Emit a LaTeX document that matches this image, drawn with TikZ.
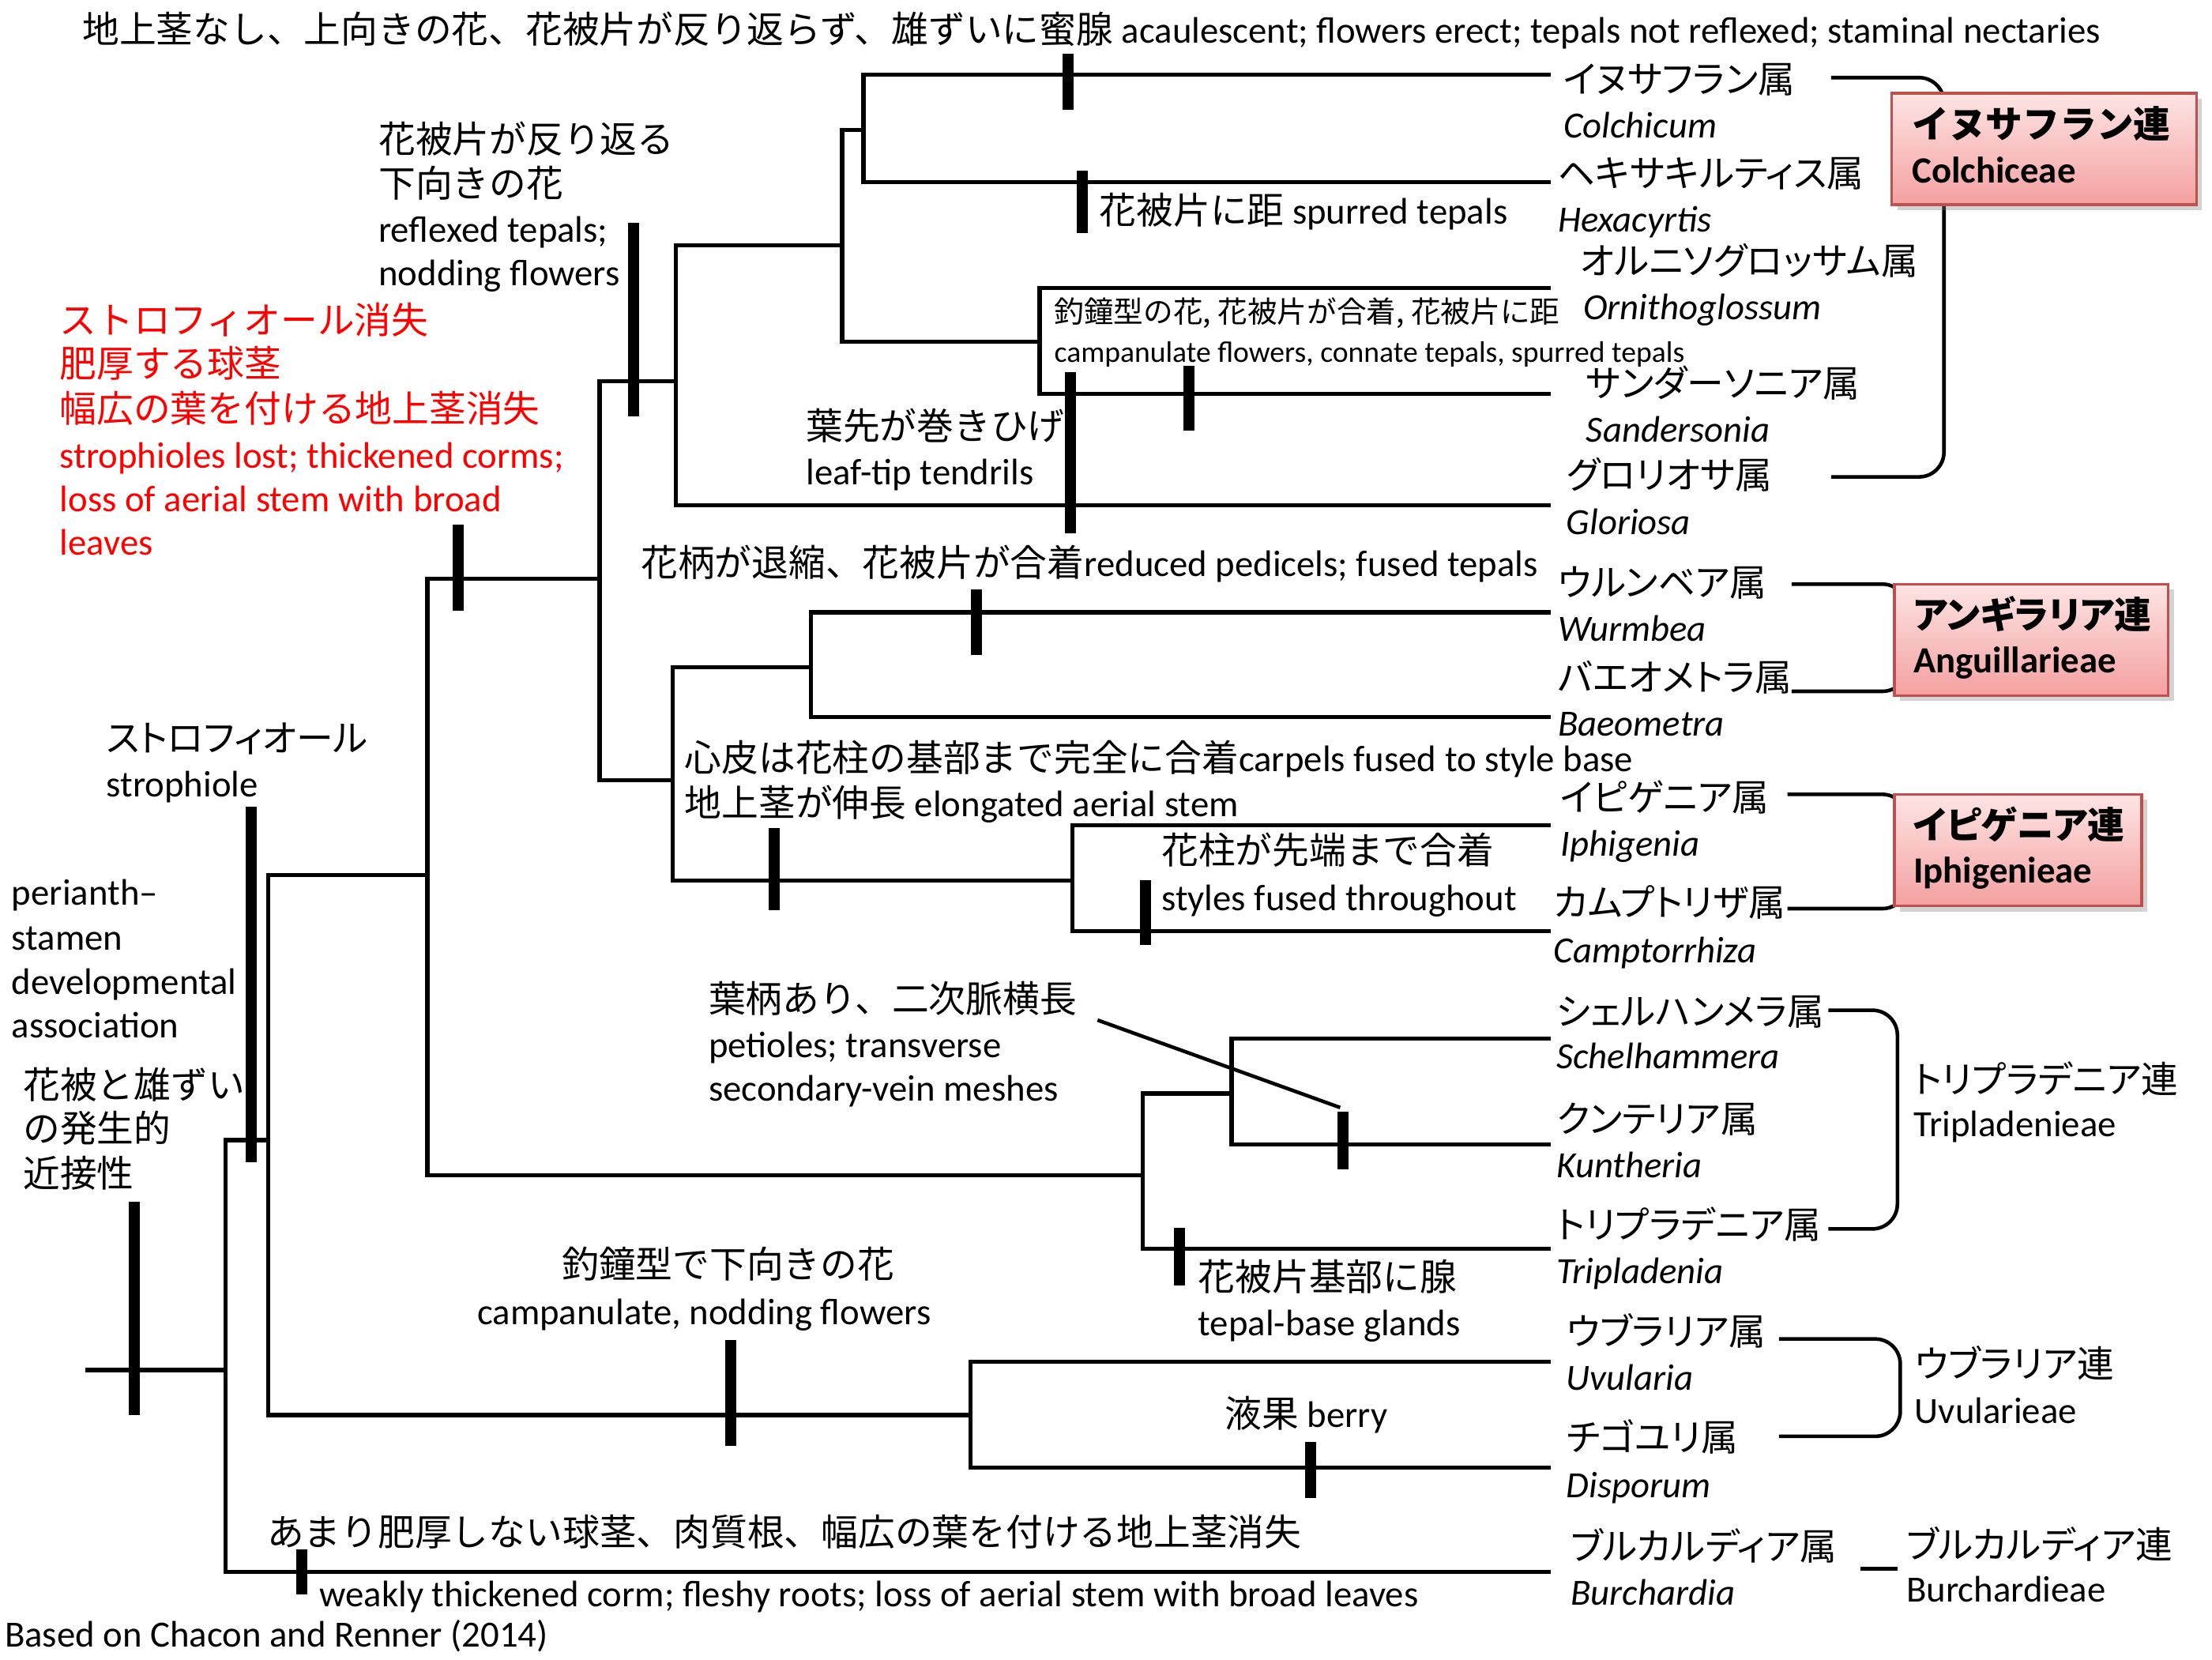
\documentclass[tikz,border=0pt]{standalone}
\usepackage{fontspec}
\setmainfont{Carlito}
\newfontfamily\jp{Noto Sans CJK JP}
\newfontfamily\jpp{Noto Sans CJK JP}[RawFeature=+palt]
\usetikzlibrary{shadows}
\definecolor{boxred}{RGB}{192,80,77}
\definecolor{pinktop}{RGB}{253,228,228}
\definecolor{pinkbot}{RGB}{244,160,160}
\begin{document}
\begin{tikzpicture}[x=0.017857cm,y=-0.017857cm,
 tree/.style={line width=1.5pt, line join=miter, line cap=rect},
 bar/.style={line width=4pt},
 brk/.style={line width=1.3pt, rounded corners=9pt},
 lbl/.style={anchor=west, inner sep=0pt, font=\fontsize{13.3}{15}\selectfont, text height=12.2pt, text depth=3.5pt},
 sml/.style={anchor=west, inner sep=0pt, font=\fontsize{10.7}{12}\selectfont, text height=9.9pt, text depth=2.8pt},
 gen/.style={lbl, font=\fontsize{13.3}{15}\selectfont\itshape},
 redlbl/.style={lbl, text=red},
 boldlbl/.style={lbl, font=\fontsize{13.3}{15}\selectfont\bfseries},
 tribebox/.style={draw=boxred, line width=1pt, top color=pinktop, bottom color=pinkbot, anchor=north west, inner sep=0pt,
   drop shadow={opacity=0.35, shadow xshift=2pt, shadow yshift=-2pt}}
]
\useasboundingbox (0,0) rectangle (1568,1176);

% ---------- tree coordinates ----------
\coordinate (r)   at (62,971);
\coordinate (n0)  at (160,971);
\coordinate (n1)  at (190,808);
\coordinate (n2)  at (303,620);
\coordinate (n3)  at (425,410);
\coordinate (n4)  at (479,270);
\coordinate (n5)  at (597,174);
\coordinate (n6)  at (612,92);
\coordinate (n7)  at (737,242);
\coordinate (n8)  at (477,553);
\coordinate (n9)  at (575,473);
\coordinate (n10) at (760,624);
\coordinate (n11) at (810,833);
\coordinate (n12) at (873,775);
\coordinate (n13) at (688,1003);
\coordinate (tCol) at (1098,53);
\coordinate (tHex) at (1098,129);
\coordinate (tOrn) at (1098,204);
\coordinate (tSan) at (1098,279);
\coordinate (tGlo) at (1098,358);
\coordinate (tWur) at (1098,434);
\coordinate (tBae) at (1098,508);
\coordinate (tIph) at (1098,585);
\coordinate (tCam) at (1098,660);
\coordinate (tSch) at (1098,736);
\coordinate (tKun) at (1098,811);
\coordinate (tTri) at (1098,885);
\coordinate (tUvu) at (1098,965);
\coordinate (tDis) at (1098,1040);
\coordinate (tBur) at (1098,1114);

\draw[tree] (r) -- (n0);
\draw[tree] (n0) |- (n1);  \draw[tree] (n0) |- (tBur);
\draw[tree] (n1) |- (n2);  \draw[tree] (n1) |- (n13);
\draw[tree] (n2) |- (n3);  \draw[tree] (n2) |- (n11);
\draw[tree] (n3) |- (n4);  \draw[tree] (n3) |- (n8);
\draw[tree] (n4) |- (n5);  \draw[tree] (n4) |- (tGlo);
\draw[tree] (n5) |- (n6);  \draw[tree] (n5) |- (n7);
\draw[tree] (n6) |- (tCol); \draw[tree] (n6) |- (tHex);
\draw[tree] (n7) |- (tOrn); \draw[tree] (n7) |- (tSan);
\draw[tree] (n8) |- (n9);  \draw[tree] (n8) |- (n10);
\draw[tree] (n9) |- (tWur); \draw[tree] (n9) |- (tBae);
\draw[tree] (n10) |- (tIph); \draw[tree] (n10) |- (tCam);
\draw[tree] (n11) |- (n12); \draw[tree] (n11) |- (tTri);
\draw[tree] (n12) |- (tSch); \draw[tree] (n12) |- (tKun);
\draw[tree] (n13) |- (tUvu); \draw[tree] (n13) |- (tDis);

% ---------- character bars ----------
\draw[bar] (95,852) -- (95,1003);
\draw[bar] (178,572) -- (178,824);
\draw[bar] (214,1098) -- (214,1130);
\draw[bar] (325,372) -- (325,433);
\draw[bar] (449,158) -- (449,295);
\draw[bar] (759,264) -- (759,378);
\draw[bar] (757,38) -- (757,78);
\draw[bar] (767,121) -- (767,165);
\draw[bar] (843,259) -- (843,305);
\draw[bar] (692,418) -- (692,464);
\draw[bar] (549,587) -- (549,645);
\draw[bar] (812,624) -- (812,670);
\draw[bar] (836,870) -- (836,911);
\draw[bar] (952,788) -- (952,829);
\draw[bar] (518,950) -- (518,1025);
\draw[bar] (929,1022) -- (929,1062);

% diagonal pointer
\coordinate (dA) at (778,723);
\coordinate (dB) at (950,785);
\draw[line width=1.3pt] (dA) -- (dB);

% ---------- brackets ----------
\coordinate (bc1) at (1298,55);  \coordinate (bcv) at (1378,200); \coordinate (bc2) at (1298,338);
\draw[brk] (bc1) -| (bcv) |- (bc2);
\coordinate (ba1) at (1270,414); \coordinate (bav) at (1352,450); \coordinate (ba2) at (1270,490);
\draw[brk] (ba1) -| (bav) |- (ba2);
\coordinate (bi1) at (1267,563); \coordinate (biv) at (1352,600); \coordinate (bi2) at (1267,644);
\draw[brk] (bi1) -| (biv) |- (bi2);
\coordinate (bt1) at (1296,716); \coordinate (btv) at (1345,790); \coordinate (bt2) at (1296,871);
\draw[brk] (bt1) -| (btv) |- (bt2);
\coordinate (bu1) at (1261,949); \coordinate (buv) at (1347,985); \coordinate (bu2) at (1261,1018);
\draw[brk] (bu1) -| (buv) |- (bu2);
\coordinate (bb1) at (1319,1112); \coordinate (bb2) at (1345,1112);
\draw[tree,line cap=butt] (bb1) -- (bb2);

% ---------- tribe boxes ----------
\node (boxCol) [tribebox, minimum width=3.857cm, minimum height=1.411cm] at (1340,65) {};
\node (boxAng) [tribebox, minimum width=3.464cm, minimum height=1.411cm] at (1342,413) {};
\node (boxIph) [tribebox, minimum width=3.125cm, minimum height=1.411cm] at (1342,562) {};

\node (trCol1) [boldlbl] at (1355,89) {\jp イヌサフラン連};
\node (trCol2) [boldlbl] at (1355,121) {Colchiceae};
\node (trAng1) [boldlbl] at (1356,437) {\jpp アンギラリア連};
\node (trAng2) [boldlbl] at (1356,468) {Anguillarieae};
\node (trIph1) [boldlbl] at (1356,586) {\jpp イピゲニア連};
\node (trIph2) [boldlbl] at (1356,617) {Iphigenieae};
\node (trTri1) [lbl] at (1356,766) {\jpp トリプラデニア連};
\node (trTri2) [lbl] at (1356,797) {Tripladenieae};
\node (trUvu1) [lbl] at (1357,968) {\jpp ウブラリア連};
\node (trUvu2) [lbl] at (1357,1000) {Uvularieae};
\node (trBur1) [lbl] at (1351,1096) {\jpp ブルカルディア連};
\node (trBur2) [lbl] at (1351,1127) {Burchardieae};

% ---------- genus labels ----------
\node (gCol1) [lbl] at (1108,57) {\jpp イヌサフラン属};
\node (gCol2) [gen] at (1108,89) {Colchicum};
\node (gHex1) [lbl] at (1104,124) {\jpp ヘキサキルティス属};
\node (gHex2) [gen] at (1104,156) {Hexacyrtis};
\node (gOrn1) [lbl] at (1120,186) {\jpp オルニソグロッサム属};
\node (gOrn2) [gen] at (1122,218) {Ornithoglossum};
\node (gSan1) [lbl] at (1124,273) {\jpp サンダーソニア属};
\node (gSan2) [gen] at (1124,305) {Sandersonia};
\node (gGlo1) [lbl] at (1110,338) {\jpp グロリオサ属};
\node (gGlo2) [gen] at (1110,370) {Gloriosa};
\node (gWur1) [lbl] at (1104,414) {\jpp ウルンベア属};
\node (gWur2) [gen] at (1104,446) {Wurmbea};
\node (gBae1) [lbl] at (1104,481) {\jpp バエオメトラ属};
\node (gBae2) [gen] at (1104,513) {Baeometra};
\node (gIph1) [lbl] at (1106,566) {\jpp イピゲニア属};
\node (gIph2) [gen] at (1106,598) {Iphigenia};
\node (gCam1) [lbl] at (1101,641) {\jpp カムプトリザ属};
\node (gCam2) [gen] at (1101,674) {Camptorrhiza};
\node (gSch1) [lbl] at (1103,718) {\jpp シェルハンメラ属};
\node (gSch2) [gen] at (1103,749) {Schelhammera};
\node (gKun1) [lbl] at (1103,794) {\jpp クンテリア属};
\node (gKun2) [gen] at (1103,826) {Kuntheria};
\node (gTri1) [lbl] at (1103,869) {\jpp トリプラデニア属};
\node (gTri2) [gen] at (1103,901) {Tripladenia};
\node (gUvu1) [lbl] at (1110,945) {\jpp ウブラリア属};
\node (gUvu2) [gen] at (1110,977) {Uvularia};
\node (gDis1) [lbl] at (1110,1020) {\jpp チゴユリ属};
\node (gDis2) [gen] at (1110,1053) {Disporum};
\node (gBur1) [lbl] at (1113,1097) {\jpp ブルカルディア属};
\node (gBur2) [gen] at (1113,1129) {Burchardia};

% ---------- character labels ----------
\node (t0) [lbl] at (58,22) {{\jp 地上茎なし、上向きの花、花被片が反り返らず、雄ずいに蜜腺} acaulescent; flowers erect; tepals not reflexed; staminal nectaries};

\node (c1a) [lbl] at (268,100) {\jp 花被片が反り返る};
\node (c1b) [lbl] at (268,131) {\jp 下向きの花};
\node (c1c) [lbl] at (268,163) {reflexed tepals;};
\node (c1d) [lbl] at (268,194) {nodding flowers};

\node (r1) [redlbl] at (42,228) {\jp ストロフィオール消失};
\node (r2) [redlbl] at (42,259) {\jp 肥厚する球茎};
\node (r3) [redlbl] at (42,291) {\jp 幅広の葉を付ける地上茎消失};
\node (r4) [redlbl] at (42,323) {strophioles lost; thickened corms;};
\node (r5) [redlbl] at (42,354) {loss of aerial stem with broad};
\node (r6) [redlbl] at (42,385) {leaves};

\node (lt1) [lbl] at (571,303) {\jp 葉先が巻きひげ};
\node (lt2) [lbl] at (571,335) {leaf-tip tendrils};

\node (sp) [lbl] at (779,150) {{\jp 花被片に距} spurred tepals};

\node (cf1) [sml] at (747,222) {\jp 釣鐘型の花, 花被片が合着, 花被片に距};
\node (cf2) [sml] at (747,250) {campanulate flowers, connate tepals, spurred tepals};

\node (rp) [lbl] at (454,400) {{\jp 花柄が退縮、花被片が合着}reduced pedicels; fused tepals};

\node (cp1) [lbl] at (485,538) {{\jp 心皮は花柱の基部まで完全に合着}carpels fused to style base};
\node (cp2) [lbl] at (485,570) {{\jp 地上茎が伸長} elongated aerial stem};

\node (sf1) [lbl] at (823,604) {\jp 花柱が先端まで合着};
\node (sf2) [lbl] at (823,637) {styles fused throughout};

\node (st1) [lbl] at (75,524) {\jpp ストロフィオール};
\node (st2) [lbl] at (75,556) {strophiole};

\node (pa1) [lbl] at (8,633) {perianth–};
\node (pa2) [lbl] at (8,665) {stamen};
\node (pa3) [lbl] at (8,696) {developmental};
\node (pa4) [lbl] at (8,727) {association};
\node (pj1) [lbl] at (16,770) {\jp 花被と雄ずい};
\node (pj2) [lbl] at (16,801) {\jp の発生的};
\node (pj3) [lbl] at (16,833) {\jp 近接性};

\node (pt1) [lbl] at (502,709) {\jp 葉柄あり、二次脈横長};
\node (pt2) [lbl] at (502,741) {petioles; transverse};
\node (pt3) [lbl] at (502,772) {secondary-vein meshes};

\node (tg1) [lbl] at (849,906) {\jp 花被片基部に腺};
\node (tg2) [lbl] at (849,938) {tepal-base glands};

\node (cn1) [lbl] at (398,897) {\jp 釣鐘型で下向きの花};
\node (cn2) [lbl] at (338,930) {campanulate, nodding flowers};

\node (be) [lbl] at (868,1003) {{\jp 液果} berry};

\node (wk1) [lbl] at (189,1087) {\jp あまり肥厚しない球茎、肉質根、幅広の葉を付ける地上茎消失};
\node (wk2) [lbl] at (226,1130) {weakly thickened corm; fleshy roots; loss of aerial stem with broad leaves};

\node (src) [lbl] at (3,1159) {Based on Chacon and Renner (2014)};
\end{tikzpicture}
\end{document}
